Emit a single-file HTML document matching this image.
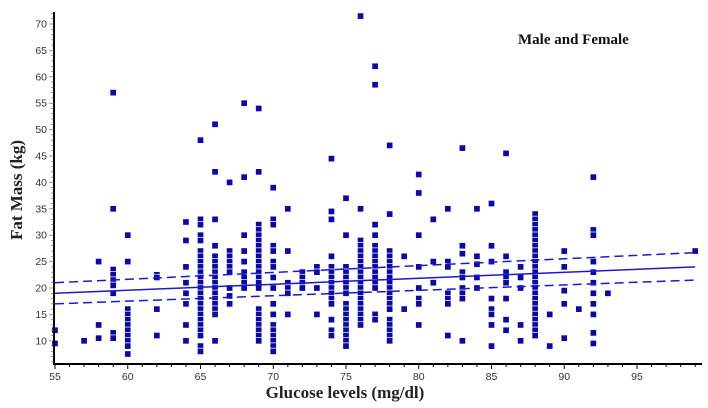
<!DOCTYPE html>
<html><head><meta charset="utf-8"><style>
body{margin:0;background:#fff;width:708px;height:408px;overflow:hidden}
svg{display:block}
.tick{font-family:"Liberation Sans",sans-serif;font-size:10.5px;fill:#333}
</style></head><body>
<svg id="chart" width="708" height="408">
<text x="518" y="44" font-family="Liberation Serif,serif" font-weight="bold" font-size="15" fill="#111">Male and Female</text>
<text transform="translate(22,190) rotate(-90)" text-anchor="middle" font-family="Liberation Serif,serif" font-weight="bold" font-size="17" fill="#222">Fat  Mass (kg)</text>
<text x="345" y="398" text-anchor="middle" font-family="Liberation Serif,serif" font-weight="bold" font-size="17" fill="#222">Glucose levels (mg/dl)</text>
<g id="pts"></g>
<g id="lines"></g>
<line x1="54" y1="12" x2="54" y2="364" stroke="#000" stroke-width="2"/>
<line x1="53" y1="364" x2="702" y2="364" stroke="#000" stroke-width="2"/>
<g id="ticks"></g>
</svg>
<script>
const xTicks=[55,60,65,70,75,80,85,90,95];
const yTicks=[10,15,20,25,30,35,40,45,50,55,60,65,70];
const cols=[
[55,[12,9.5]],[57,[10]],[58,[25,13,10.5]],
[59,[57,35,23.5,22.5,21.5,20.5,19,11.5,10.5]],
[60,[30,25,16,15,14,13,12,11,10,9,7.5]],
[62,[22.5,22,16,11]],
[64,[32.5,29,24,21,19,17,13,10]],
[65,[48,33,32,30,29,27,26,25,24,23,22,21,20,19,18,17,16,15,14,13,12,11,9,8]],
[66,[51,42,33,28,26,25,24,23,22,21,20,19,18,17,16,15,10]],
[67,[40,27,26,25,24,23,20,18.5,17]],
[68,[55,41,30,27,25,23,22,21,20]],
[69,[54,42,32,31,30,29,28,27,26,25,24,23,22,21,20,16,15,14,13,12,11,10]],
[70,[39,33,32,28,27,25,24,22,20,17,15,13,12,11,10,9,8]],
[71,[35,27,21,20,19,15]],[72,[23,22,21,20]],[73,[24,23,20,15]],
[74,[44.5,34.5,33,26,24,23,22,21,20,19,18,17,14,12,11]],
[75,[37,30,24,23,22,21,20,19,17,16,15,14,13,12,11,10,9]],
[76,[71.5,35,29,28,27,26,25,24,23,22,21,20,19,18,17,16,15,14,13]],
[77,[62,58.5,32,30,28,27,26,25,24,23,22,21,20,15,14]],
[78,[47,34,27,26,25,24,23,22,21,20,19,18,17,16,14,13,12,11,10]],
[79,[26,16]],[80,[41.5,38,30,24,20,18,17,13]],[81,[33,25,21]],
[82,[35,25,24,19,18,17,11]],[83,[46.5,28,26.5,23,22,20,19,18,10]],
[84,[35,26,24.5,22,20]],[85,[36,28,25,18,16,15,13,9]],
[86,[45.5,26,23,22,21,18,14,12]],[87,[24,22,20,13,10]],
[88,[34,33,32,31,30,29,28,27,26,25,24,23,22,21,20,19,18,17,16,15,14,13,12,11]],
[89,[15,9]],[90,[27,24,19.5,17,10.5]],[91,[16]],
[92,[41,31,30,25,23,21,19,17,15,11.5,9.5]],[93,[19]],[99,[27]]
];
const fitX=[55,99];
const fitY=[19,24];
const upperY=[21,26.7];
const lowerY=[17,21.5];
const X=v=>55+(v-55)*14.55;
const Y=v=>24+(70-v)*5.28;
const NS="http://www.w3.org/2000/svg";
function mk(tag,attrs,parent){const e=document.createElementNS(NS,tag);for(const k in attrs)e.setAttribute(k,attrs[k]);parent.appendChild(e);return e;}
const ticks=document.getElementById('ticks');
for(let v=55;v<=99;v++){const t=mk('line',{x1:X(v),x2:X(v),y1:364,y2:xTicks.includes(v)?369:367,stroke:'#000','stroke-width':1},ticks);

}
xTicks.forEach(v=>{const t=mk('text',{x:X(v),y:380,'text-anchor':'middle',class:'tick'},ticks);t.textContent=v;

});
for(let v=6;v<=72;v++){const t=mk('line',{x1:yTicks.includes(v)?49:51,x2:54,y1:Y(v),y2:Y(v),stroke:'#555','stroke-width':0.6},ticks);

}
yTicks.forEach(v=>{const t=mk('text',{x:47,y:Y(v)+3.5,'text-anchor':'end',class:'tick'},ticks);t.textContent=v;

});
const pts=document.getElementById('pts');
cols.forEach(([x,ys])=>ys.forEach(y=>{const r=mk('rect',{x:X(x)-3.2,y:Y(y)-3.2,width:6.4,height:6.4,fill:'#0a0aa0',stroke:'#fff','stroke-width':0.7},pts);

}));
const lines=document.getElementById('lines');
const l1=mk('line',{x1:X(fitX[0]),y1:Y(fitY[0]),x2:X(fitX[1]),y2:Y(fitY[1]),stroke:'#1a1acc','stroke-width':1.5},lines);


const l2=mk('line',{x1:X(fitX[0]),y1:Y(upperY[0]),x2:X(fitX[1]),y2:Y(upperY[1]),stroke:'#1a1acc','stroke-width':1.5,'stroke-dasharray':'9,5'},lines);


const l3=mk('line',{x1:X(fitX[0]),y1:Y(lowerY[0]),x2:X(fitX[1]),y2:Y(lowerY[1]),stroke:'#1a1acc','stroke-width':1.5,'stroke-dasharray':'9,5'},lines);


</script>
</body></html>
